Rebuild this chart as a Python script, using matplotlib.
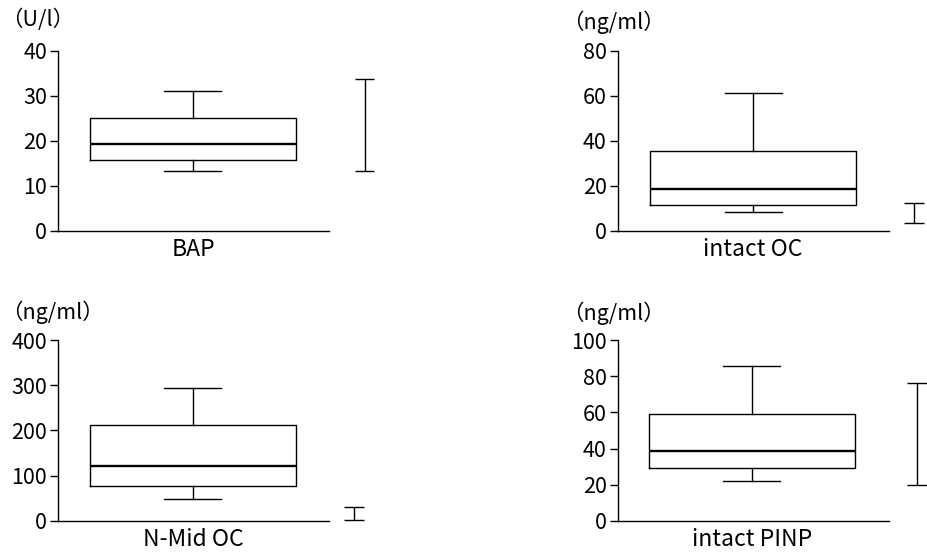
import numpy as np
import matplotlib
matplotlib.use("Agg")
import matplotlib.pyplot as plt

plt.rcParams['font.family'] = ['Noto Sans CJK JP', 'DejaVu Sans']

# values
categories = ["BAP", "intact OC", "N-Mid OC", "intact PINP"]
units = ["（U/l）", "（ng/ml）", "（ng/ml）", "（ng/ml）"]
whislo = [13.3, 8.3, 49, 22.0]
q1 = [15.8, 11.6, 77, 29.1]
med = [19.4, 18.7, 122, 38.7]
q3 = [25.1, 35.6, 213, 58.9]
whishi = [31.2, 61.3, 295, 85.6]
ref_lo = [13.3, 3.4, 2.2, 19.8]
ref_hi = [33.7, 12.6, 29.6, 76.3]
ymax = [40, 80, 400, 100]
ystep = [10, 20, 100, 20]

# layout (figure fractions / axes units)
axes_pos = [
    [0.0625, 0.5853, 0.2920, 0.3232],
    [0.6656, 0.5853, 0.2924, 0.3232],
    [0.0625, 0.0652, 0.2920, 0.3239],
    [0.6656, 0.0652, 0.2924, 0.3239],
]
box_x = [0.498, 0.499, 0.498, 0.494]
ref_x = [1.132, 1.092, 1.093, 1.104]
unit_pos = [(1, 20), (562, 22), (1, 312), (562, 313)]

fig = plt.figure(figsize=(9.28, 5.57), dpi=100)

for i in range(4):
    ax = fig.add_axes(axes_pos[i])
    stats = [dict(med=med[i], q1=q1[i], q3=q3[i], whislo=whislo[i], whishi=whishi[i])]
    ax.bxp(stats, positions=[box_x[i]], widths=0.76, capwidths=0.21, showfliers=False,
           boxprops=dict(color="black", linewidth=1.0),
           whiskerprops=dict(color="black", linewidth=1.0),
           capprops=dict(color="black", linewidth=1.0),
           medianprops=dict(color="black", linewidth=1.7))
    # reference range bar
    ax.vlines(ref_x[i], ref_lo[i], ref_hi[i], color="black", linewidth=1.0, clip_on=False)
    ax.hlines([ref_lo[i], ref_hi[i]], ref_x[i] - 0.036, ref_x[i] + 0.036,
              color="black", linewidth=1.0, clip_on=False)

    ax.set_xlim(0, 1)
    ax.set_ylim(0, ymax[i])
    ax.set_yticks(np.arange(0, ymax[i] + 1, ystep[i]))
    ax.set_xticks([box_x[i]])
    ax.set_xticklabels([categories[i]], fontsize=16.5)
    ax.tick_params(axis="x", length=0, pad=5)
    ax.tick_params(axis="y", length=6, width=1.0, labelsize=15.5, pad=2)
    ax.spines["top"].set_visible(False)
    ax.spines["right"].set_visible(False)
    ax.spines["left"].set_linewidth(1.0)
    ax.spines["bottom"].set_linewidth(1.0)
    ax.spines["bottom"].set_bounds(0, 1)

    ux, uy = unit_pos[i]
    fig.text(ux / 928, 1 - uy / 557, units[i], fontsize=15.5, ha="left", va="center")

fig.savefig("out.png", dpi=100)
